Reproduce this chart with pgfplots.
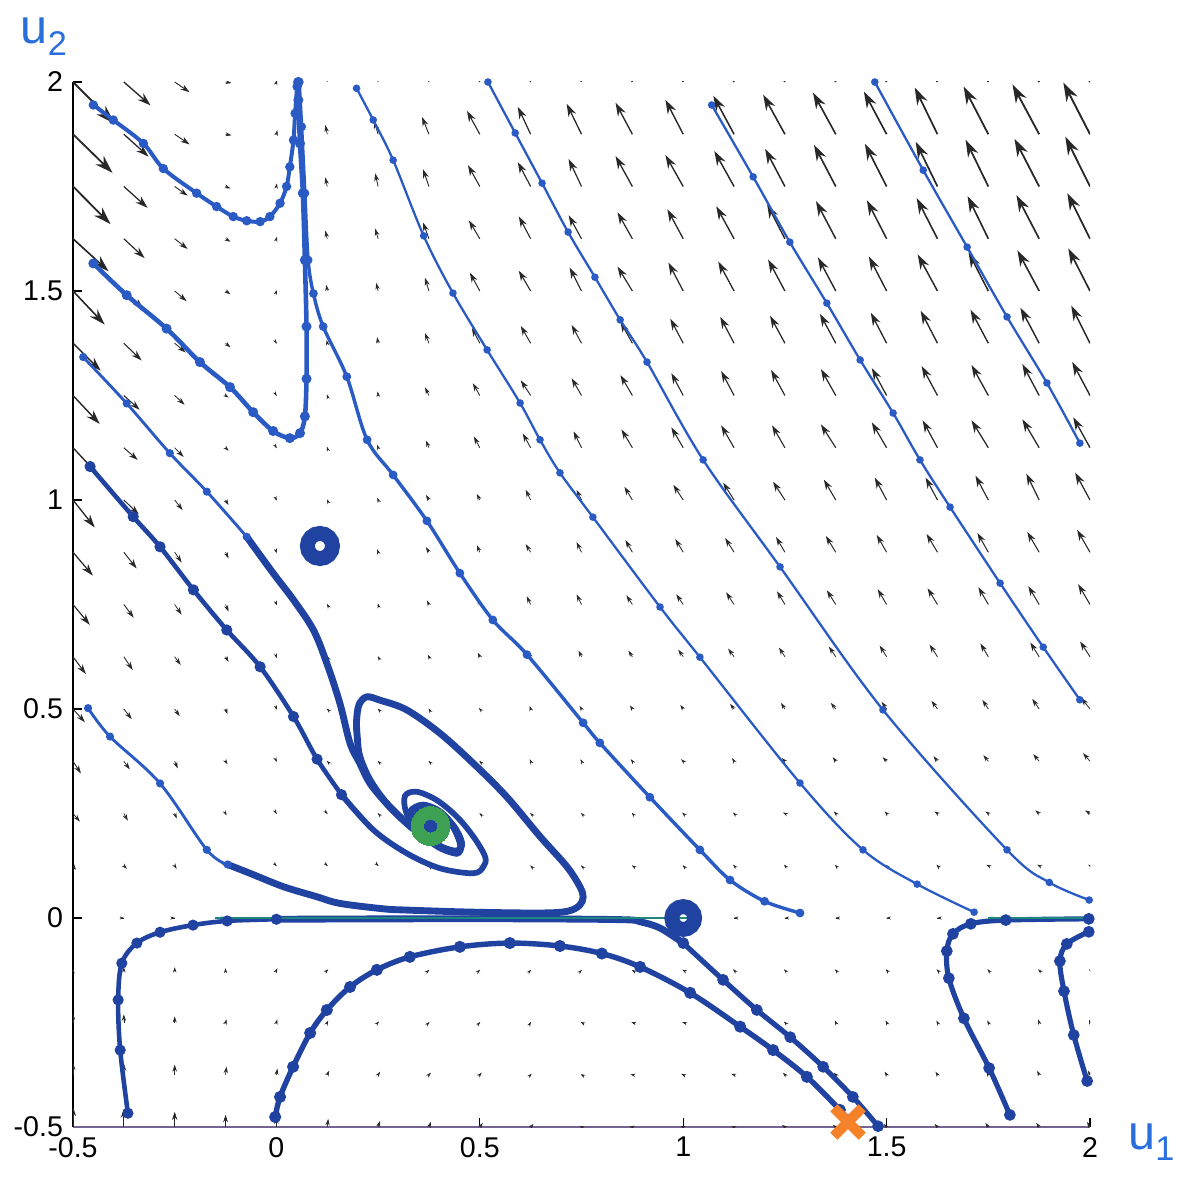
\documentclass[border=0pt]{standalone}
\usepackage{pgfplots}
\pgfplotsset{compat=1.18}
\usepackage{pgfplotstable}
\usetikzlibrary{arrows.meta}
\usepackage{fontspec}
\setmainfont{Liberation Sans}
\definecolor{blueT}{RGB}{32,66,160}
\definecolor{blueL}{RGB}{42,90,195}
\definecolor{tealC}{RGB}{30,135,125}
\definecolor{greenC}{RGB}{62,160,82}
\definecolor{orangeC}{RGB}{245,130,40}
\definecolor{arrowC}{RGB}{40,40,40}
\definecolor{ublue}{RGB}{40,110,220}
\definecolor{baseC}{RGB}{115,100,145}

\pgfplotsset{
 trajthin/.style={color=blueL, line width=0.8pt, mark=*, mark size=0.9pt, smooth, tension=0.55},
 trajmed/.style={color=blueT, line width=1.6pt, mark=*, mark size=1.1pt, smooth, tension=0.55},
 trajthick/.style={color=blueT, line width=2.4pt, no marks, smooth, tension=0.55},
}

\pgfplotstableread{
x y u v
-0.5 2 42 -41
-0.375 2 27 -23
-0.25 2 15 -10
-0.125 2 6 -1
0 2 0.5 2
0.125 2 -2 8
0.25 2 -4 13
0.375 2 -7 18
0.5 2 -14 24
0.625 2 -14 28
0.75 2 -16 31
0.875 2 -18 33
1 2 -19 36
1.125 2 -22 40
1.25 2 -23 41
1.375 2 -24 43
1.5 2 -24 44
1.625 2 -24 48
1.75 2 -26 49
1.875 2 -28 51
2 2 -28 53
-0.5 1.875 40 -38
-0.375 1.875 25 -22
-0.25 1.875 15 -10
-0.125 1.875 6 -1
0 1.875 1 4
0.125 1.875 -2 9
0.25 1.875 -4 13
0.375 1.875 -7 17
0.5 1.875 -13 23
0.625 1.875 -13 27
0.75 1.875 -15 30
0.875 1.875 -17 31
1 1.875 -18 34
1.125 1.875 -21 38
1.25 1.875 -22 39
1.375 1.875 -23 41
1.5 1.875 -23 42
1.625 1.875 -23 46
1.75 1.875 -25 47
1.875 1.875 -27 49
2 1.875 -27 51
-0.5 1.75 38 -37
-0.375 1.75 24 -21
-0.25 1.75 13 -9
-0.125 1.75 5 -2
0 1.75 0.5 3
0.125 1.75 -2 9
0.25 1.75 -3 13
0.375 1.75 -6 17
0.5 1.75 -12 21
0.625 1.75 -13 24
0.75 1.75 -13 27
0.875 1.75 -17 30
1 1.75 -18 31
1.125 1.75 -20 35
1.25 1.75 -20 37
1.375 1.75 -22 41
1.5 1.75 -22 42
1.625 1.75 -22 44
1.75 1.75 -23 46
1.875 1.75 -25 47
2 1.75 -25 49
-0.5 1.625 36 -32
-0.375 1.625 21 -19
-0.25 1.625 13 -10
-0.125 1.625 5 -3
0 1.625 0.5 2
0.125 1.625 -2 8
0.25 1.625 -3 10
0.375 1.625 -6 16
0.5 1.625 -11 18
0.625 1.625 -12 22
0.75 1.625 -13 23
0.875 1.625 -15 26
1 1.625 -16 29
1.125 1.625 -18 32
1.25 1.625 -18 34
1.375 1.625 -20 37
1.5 1.625 -20 38
1.625 1.625 -21 40
1.75 1.625 -21 42
1.875 1.625 -23 43
2 1.625 -23 45
-0.5 1.5 32 -33
-0.375 1.5 20 -18
-0.25 1.5 12 -10
-0.125 1.5 5 -3
0 1.5 0.3 1
0.125 1.5 -1 6
0.25 1.5 -2 8
0.375 1.5 -4 13
0.5 1.5 -10 18
0.625 1.5 -12 20
0.75 1.5 -12 23
0.875 1.5 -15 24
1 1.5 -15 28
1.125 1.5 -16 29
1.25 1.5 -17 31
1.375 1.5 -18 33
1.5 1.5 -18 34
1.625 1.5 -20 36
1.75 1.5 -20 38
1.875 1.5 -22 40
2 1.5 -22 42
-0.5 1.375 28 -27
-0.375 1.375 18 -17
-0.25 1.375 11 -9
-0.125 1.375 5 -4
0 1.375 0.3 -0.5
0.125 1.375 -0.5 3
0.25 1.375 -1 6
0.375 1.375 -4 10
0.5 1.375 -8 15
0.625 1.375 -10 17
0.75 1.375 -10 18
0.875 1.375 -12 21
1 1.375 -13 24
1.125 1.375 -14 26
1.25 1.375 -15 27
1.375 1.375 -16 29
1.5 1.375 -16 30
1.625 1.375 -17 32
1.75 1.375 -18 33
1.875 1.375 -19 35
2 1.375 -19 37
-0.5 1.25 27 -28
-0.375 1.25 16 -14
-0.25 1.25 10 -9
-0.125 1.25 3 -2
0 1.25 0.3 -0.5
0.125 1.25 -0.3 1
0.25 1.25 -0.5 4
0.375 1.25 -4 8
0.5 1.25 -7 12
0.625 1.25 -10 15
0.75 1.25 -10 17
0.875 1.25 -12 20
1 1.25 -12 22
1.125 1.25 -13 24
1.25 1.25 -14 25
1.375 1.25 -15 26
1.5 1.25 -15 27
1.625 1.25 -16 29
1.75 1.25 -17 30
1.875 1.25 -17 31
2 1.25 -18 33
-0.5 1.125 25 -26
-0.375 1.125 14 -12
-0.25 1.125 9 -9
-0.125 1.125 3 -3
0 1.125 0.3 -0.5
0.125 1.125 -0.3 1
0.25 1.125 -1 3
0.375 1.125 -3 7
0.5 1.125 -6 11
0.625 1.125 -8 14
0.75 1.125 -8 16
0.875 1.125 -11 18
1 1.125 -12 20
1.125 1.125 -13 22
1.25 1.125 -13 22
1.375 1.125 -15 23
1.5 1.125 -15 25
1.625 1.125 -15 27
1.75 1.125 -17 27
1.875 1.125 -17 28
2 1.125 -17 30
-0.5 1 22 -27
-0.375 1 15 -14
-0.25 1 8 -10
-0.125 1 3 -5
0 1 0.3 -0.7
0.125 1 -0.3 0.6
0.25 1 -1 2
0.375 1 -3 5
0.5 1 -3 6
0.625 1 -5 10
0.75 1 -5 10
0.875 1 -8 13
1 1 -10 15
1.125 1 -11 17
1.25 1 -12 18
1.375 1 -12 20
1.5 1 -12 22
1.625 1 -12 22
1.75 1 -13 24
1.875 1 -13 26
2 1 -15 27
-0.5 0.875 20 -23
-0.375 0.875 13 -16
-0.25 0.875 7 -10
-0.125 0.875 3 -6
0 0.875 0.3 -1
0.125 0.875 -0.3 0.5
0.25 0.875 -1 3
0.375 0.875 -3 5
0.5 0.875 -3 7
0.625 0.875 -5 8
0.75 0.875 -5 10
0.875 0.875 -7 12
1 0.875 -8 13
1.125 0.875 -9 14
1.25 0.875 -9 15
1.375 0.875 -10 16
1.5 0.875 -10 17
1.625 0.875 -11 18
1.75 0.875 -11 19
1.875 0.875 -12 20
2 0.875 -13 22
-0.5 0.75 17 -20
-0.375 0.75 10 -13
-0.25 0.75 7 -10
-0.125 0.75 3 -7
0 0.75 0.3 -1
0.125 0.75 -0.3 0.5
0.25 0.75 -0.3 1
0.375 0.75 -2 4
0.5 0.75 -2 6
0.625 0.75 -4 8
0.75 0.75 -5 10
0.875 0.75 -6 9
1 0.75 -7 10
1.125 0.75 -8 12
1.25 0.75 -8 13
1.375 0.75 -9 14
1.5 0.75 -9 15
1.625 0.75 -10 16
1.75 0.75 -10 17
1.875 0.75 -11 18
2 0.75 -12 20
-0.5 0.625 13 -17
-0.375 0.625 9 -13
-0.25 0.625 6 -8
-0.125 0.625 3 -5
0 0.625 0.5 -1.5
0.125 0.625 -0.3 0.5
0.25 0.625 -0.3 0.5
0.375 0.625 -1 2
0.5 0.625 -2 4
0.625 0.625 -2.5 4.5
0.75 0.625 -3 6
0.875 0.625 -4 6
1 0.625 -5 7
1.125 0.625 -6 8
1.25 0.625 -6 9
1.375 0.625 -7 10
1.5 0.625 -7 11
1.625 0.625 -8 12
1.75 0.625 -8 13
1.875 0.625 -9 14
2 0.625 -10 15
-0.5 0.5 12 -13
-0.375 0.5 8 -10
-0.25 0.5 5 -7
-0.125 0.5 2 -5
0 0.5 0.3 -1
0.125 0.5 -0.3 0.3
0.25 0.5 -0.3 0.3
0.375 0.5 -0.3 0.5
0.5 0.5 -1 1
0.625 0.5 -1 3
0.75 0.5 -2 3
0.875 0.5 -2.5 3.5
1 0.5 -3 4
1.125 0.5 -4 5
1.25 0.5 -4 6
1.375 0.5 -5 6
1.5 0.5 -5 7
1.625 0.5 -6 8
1.75 0.5 -6 9
1.875 0.5 -7 10
2 0.5 -9 11
-0.5 0.375 8 -12
-0.375 0.375 6 -8
-0.25 0.375 3 -7
-0.125 0.375 2 -3
0 0.375 0.3 -0.7
0.125 0.375 -0.3 0.3
0.25 0.375 -0.3 0.3
0.375 0.375 -0.3 0.3
0.5 0.375 -0.5 0.5
0.625 0.375 -1 2
0.75 0.375 -1 2
0.875 0.375 -1.5 2
1 0.375 -2 2
1.125 0.375 -2 3
1.25 0.375 -3 3
1.375 0.375 -3 4
1.5 0.375 -4 4
1.625 0.375 -4 5
1.75 0.375 -5 6
1.875 0.375 -6 7
2 0.375 -7 8
-0.5 0.25 7 -8
-0.375 0.25 4 -7
-0.25 0.25 2 -5
-0.125 0.25 1 -2
0 0.25 0.3 -0.5
0.125 0.25 0.3 -0.3
0.25 0.25 -0.3 0.3
0.375 0.25 -0.3 0.3
0.5 0.25 -0.3 0.3
0.625 0.25 -0.5 0.5
0.75 0.25 -0.5 0.5
0.875 0.25 -0.7 0.7
1 0.25 -1 1
1.125 0.25 -1 1
1.25 0.25 -2 1
1.375 0.25 -2 2
1.5 0.25 -2 2
1.625 0.25 -3 2
1.75 0.25 -3 2
1.875 0.25 -4 3
2 0.25 -5 3
-0.5 0.125 3 -4
-0.375 0.125 3 -3
-0.25 0.125 2 -3
-0.125 0.125 1 -1
0 0.125 0.3 -0.3
0.125 0.125 0.3 -0.3
0.25 0.125 0.3 -0.3
0.375 0.125 -0.3 0.3
0.5 0.125 -0.3 0.3
0.625 0.125 -0.3 0.3
0.75 0.125 -0.3 0.3
0.875 0.125 -0.5 0.3
1 0.125 -0.5 0.5
1.125 0.125 -1 1
1.25 0.125 -1 1
1.375 0.125 -1 1
1.5 0.125 -1 1
1.625 0.125 -1 1
1.75 0.125 -2 1
1.875 0.125 -2 1
2 0.125 -2 1
-0.5 0 0.4 0
-0.375 0 0.4 0
-0.25 0 0.4 0
-0.125 0 0.4 0
0 0 0.4 0
0.125 0 0.4 0
0.25 0 0.4 0
0.375 0 0.4 0
0.5 0 0.4 0
0.625 0 0.4 0
0.75 0 0.4 0
0.875 0 0.4 0
1 0 0.4 0
1.125 0 -0.4 0
1.25 0 -0.4 0
1.375 0 -0.4 0
1.5 0 -0.4 0
1.625 0 -0.4 0
1.75 0 -0.4 0
1.875 0 -0.4 0
2 0 -0.4 0
-0.5 -0.125 0 2
-0.375 -0.125 0 3
-0.25 -0.125 0 3
-0.125 -0.125 0 2
0 -0.125 1 2
0.125 -0.125 1 1
0.25 -0.125 0.5 0.5
0.375 -0.125 0.4 0.3
0.5 -0.125 0.4 0.3
0.625 -0.125 0.3 0.3
0.75 -0.125 0.3 0.3
0.875 -0.125 -0.5 0.3
1 -0.125 -1 0.5
1.125 -0.125 -1 1
1.25 -0.125 -1 1
1.375 -0.125 -1 1
1.5 -0.125 -1 1
1.625 -0.125 -1 1
1.75 -0.125 -1 1
1.875 -0.125 -1 1
2 -0.125 -1 1
-0.5 -0.25 0 9
-0.375 -0.25 0 8
-0.25 -0.25 0 6
-0.125 -0.25 1 3
0 -0.25 1 3
0.125 -0.25 1 2
0.25 -0.25 1 1
0.375 -0.25 0.5 0.5
0.5 -0.25 0.4 0.4
0.625 -0.25 0.3 0.5
0.75 -0.25 -1 0.5
0.875 -0.25 -1 0.3
1 -0.25 -1 0.3
1.125 -0.25 -2 1
1.25 -0.25 -1 1
1.375 -0.25 -1 2
1.5 -0.25 -1 2
1.625 -0.25 -1 2
1.75 -0.25 -1 2
1.875 -0.25 -1 3
2 -0.25 -1 3
-0.5 -0.375 0 12
-0.375 -0.375 0 11
-0.25 -0.375 0 10
-0.125 -0.375 1 8
0 -0.375 1 6
0.125 -0.375 2 4
0.25 -0.375 2 3
0.375 -0.375 2 2
0.5 -0.375 2 2
0.625 -0.375 1 1
0.75 -0.375 -1 0.5
0.875 -0.375 -2 0.3
1 -0.375 -2 1
1.125 -0.375 -3 1
1.25 -0.375 -2 2
1.375 -0.375 -2 2
1.5 -0.375 -2 3
1.625 -0.375 -2 3
1.75 -0.375 -2 3
1.875 -0.375 -2 4
2 -0.375 -2 4
-0.5 -0.5 0 20
-0.375 -0.5 0 18
-0.25 -0.5 0 15
-0.125 -0.5 0 12
0 -0.5 0 10
0.125 -0.5 1 8
0.25 -0.5 2 6
0.375 -0.5 2 5
0.5 -0.5 3 4
0.625 -0.5 3 3
0.75 -0.5 -2 1
0.875 -0.5 -3 0.5
1 -0.5 -3 1
1.125 -0.5 -3 1
1.25 -0.5 -3 2
1.375 -0.5 -3 2
1.5 -0.5 -3 3
1.625 -0.5 -3 3
1.75 -0.5 -3 4
1.875 -0.5 -3 4
2 -0.5 -3 5
}\quiverdata

\begin{document}
\begin{tikzpicture}
\useasboundingbox (0,0) rectangle (413.7pt,412.3pt);
\begin{axis}[
  at={(25.55pt,17.85pt)}, anchor=south west,
  scale only axis, width=355.95pt, height=365.75pt,
  xmin=-0.5, xmax=2, ymin=-0.5, ymax=2,
  axis x line=bottom, axis y line=left,
  x axis line style={-, draw=baseC, line width=0.7pt},
  y axis line style={-, draw=black, line width=0.5pt},
  xtick={-0.5,0,0.5,1,1.5,2}, ytick={-0.5,0,0.5,1,1.5,2},
  tick align=inside, major tick length=3pt,
  tick style={black, line width=0.4pt},
  ticklabel style={font=\fontsize{10}{12}\selectfont},
  /pgf/number format/assume math mode=true,
  /pgf/number format/fixed,
  point meta min=0, point meta max=60,
]
% vector field
\addplot[draw=arrowC, fill=arrowC, -{Stealth[length=0pt 10, width=0pt 6.5]},
  point meta={sqrt((\thisrow{u})^2+(\thisrow{v})^2)},
  quiver={u=\thisrow{u}, v=\thisrow{v}, scale arrows=0.00243,
    every arrow/.append style={line width=0.16pt+0.52pt*\pgfplotspointmetatransformed/1000}}]
  table[x=x, y=y] {\quiverdata};

% top trajectories
\addplot[trajthin, line width=1.4pt] coordinates {(-0.450,1.945) (-0.401,1.909) (-0.327,1.853) (-0.278,1.793) (-0.196,1.734) (-0.147,1.702) (-0.106,1.678) (-0.073,1.668) (-0.040,1.666) (-0.016,1.678) (0.009,1.710) (0.025,1.750) (0.033,1.797) (0.042,1.861) (0.046,1.925) (0.051,1.989) (0.053,2.0)};
\addplot[trajthin, line width=1.6pt] coordinates {(-0.450,1.566) (-0.368,1.49) (-0.27,1.41) (-0.188,1.33) (-0.114,1.27) (-0.057,1.21) (-0.008,1.165) (0.033,1.148) (0.058,1.16) (0.07,1.2) (0.074,1.29) (0.074,1.415) (0.07,1.574) (0.065,1.734) (0.058,1.853) (0.054,1.957) (0.054,2.0)};
\addplot[trajthin, line width=1.2pt] coordinates {(0.056,2.0) (0.062,1.893) (0.070,1.734) (0.078,1.574) (0.091,1.494) (0.115,1.415) (0.173,1.295) (0.223,1.144) (0.287,1.06) (0.370,0.95) (0.451,0.825) (0.532,0.713) (0.616,0.63) (0.754,0.467) (0.795,0.419) (0.918,0.289) (1.041,0.163) (1.115,0.091) (1.2,0.04) (1.287,0.012)};
\addplot[trajthin] coordinates {(0.197,1.985) (0.238,1.909) (0.287,1.813) (0.362,1.632) (0.434,1.495) (0.518,1.359) (0.599,1.232) (0.648,1.144) (0.697,1.065) (0.778,0.959) (0.943,0.744) (1.041,0.624) (1.287,0.323) (1.442,0.163) (1.575,0.081) (1.715,0.014)};
\addplot[trajthin] coordinates {(0.520,2.0) (0.587,1.878) (0.653,1.758) (0.717,1.641) (0.783,1.533) (0.845,1.431) (0.911,1.330) (1.049,1.096) (1.238,0.84) (1.491,0.498) (1.796,0.163) (1.9,0.085) (1.998,0.043)};
\addplot[trajthin] coordinates {(1.070,1.945) (1.172,1.773) (1.262,1.617) (1.353,1.471) (1.435,1.335) (1.516,1.208) (1.582,1.096) (1.656,0.983) (1.779,0.801) (1.885,0.648) (1.975,0.522)};
\addplot[trajthin] coordinates {(1.471,2.0) (1.590,1.789) (1.698,1.605) (1.796,1.438) (1.894,1.28) (1.975,1.136)};

% left trajectories toward the spiral
\addplot[trajthin, line width=1pt] coordinates {(-0.475,1.342) (-0.368,1.231) (-0.262,1.112) (-0.171,1.02) (-0.073,0.912)};
\addplot[trajthick] coordinates {(-0.073,0.912) (-0.008,0.825) (0.042,0.761) (0.091,0.689) (0.124,0.609) (0.156,0.514) (0.181,0.418) (0.205,0.370) (0.230,0.322) (0.271,0.274) (0.320,0.227) (0.361,0.195) (0.402,0.171) (0.443,0.160) (0.455,0.18) (0.435,0.22) (0.40,0.25) (0.36,0.262) (0.345,0.24) (0.365,0.215) (0.379,0.22)};
\addplot[trajmed] coordinates {(-0.458,1.080) (-0.352,0.960) (-0.286,0.888) (-0.204,0.785) (-0.122,0.689) (-0.040,0.601) (0.042,0.482) (0.10,0.38) (0.16,0.295)};
\addplot[trajthick, line width=2pt] coordinates {(0.16,0.295) (0.238,0.211) (0.320,0.155) (0.402,0.119) (0.484,0.107) (0.509,0.123) (0.513,0.147) (0.484,0.195) (0.443,0.243) (0.394,0.282) (0.345,0.302) (0.316,0.292) (0.320,0.250) (0.353,0.203) (0.402,0.167) (0.443,0.155) (0.453,0.175) (0.435,0.218) (0.402,0.254) (0.361,0.268) (0.345,0.245) (0.36,0.215) (0.379,0.22)};
\addplot[trajthin, line width=1pt] coordinates {(-0.463,0.502) (-0.409,0.434) (-0.286,0.322) (-0.171,0.163) (-0.12,0.128)};
\addplot[trajthick] coordinates {(-0.12,0.128) (-0.065,0.107) (0.017,0.075) (0.099,0.051) (0.156,0.035) (0.263,0.022) (0.320,0.019) (0.483,0.014) (0.648,0.012) (0.715,0.016) (0.745,0.03) (0.754,0.05) (0.746,0.075) (0.714,0.123) (0.648,0.195) (0.566,0.290) (0.484,0.370) (0.402,0.442) (0.320,0.498) (0.255,0.521) (0.222,0.529) (0.203,0.510) (0.197,0.470) (0.199,0.430) (0.205,0.386) (0.230,0.330) (0.271,0.274) (0.320,0.227) (0.361,0.195) (0.402,0.171) (0.443,0.155) (0.453,0.175) (0.435,0.218) (0.402,0.254) (0.361,0.270) (0.33,0.255) (0.34,0.225) (0.379,0.22)};

% bottom trajectories
\addplot[trajmed] coordinates {(-0.365,-0.467) (-0.384,-0.316) (-0.389,-0.196) (-0.380,-0.108) (-0.343,-0.060) (-0.286,-0.034) (-0.205,-0.017) (-0.121,-0.007) (0,-0.003)};
\addplot[trajthick] coordinates {(0,-0.003) (0.3,-0.002) (0.6,-0.002) (0.85,-0.004) (0.894,-0.009) (0.943,-0.024) (1.0,-0.06)};
\addplot[trajmed, line width=1.8pt] coordinates {(1.0,-0.06) (1.098,-0.148) (1.181,-0.22) (1.263,-0.285) (1.344,-0.356) (1.417,-0.428) (1.479,-0.498)};
\addplot[trajmed, line width=1.9pt] coordinates {(-0.003,-0.476) (0.009,-0.428) (0.041,-0.356) (0.083,-0.275) (0.124,-0.220) (0.181,-0.165) (0.247,-0.124) (0.328,-0.093) (0.451,-0.069) (0.574,-0.060) (0.697,-0.067) (0.80,-0.085) (0.894,-0.117) (1.017,-0.179) (1.140,-0.260) (1.221,-0.316) (1.304,-0.380) (1.385,-0.459) (1.405,-0.483)};
\addplot[trajmed, line width=1.8pt] coordinates {(1.803,-0.471) (1.752,-0.359) (1.69,-0.24) (1.653,-0.144) (1.648,-0.079) (1.663,-0.038) (1.707,-0.014) (1.793,-0.005) (1.997,-0.002)};
\addplot[trajmed, line width=1.8pt] coordinates {(1.993,-0.39) (1.96,-0.28) (1.936,-0.175) (1.926,-0.103) (1.943,-0.062) (1.997,-0.033)};

% u2 = 0 line
\addplot[tealC, line width=0.9pt] coordinates {(-0.15,0) (1.02,0)};
\addplot[tealC, line width=0.9pt] coordinates {(1.75,0) (2,0)};

% equilibria
\addplot[only marks, mark=o, mark size=4.4pt, mark options={line width=5.2pt, draw=blueT}] coordinates {(0.107,0.89)};
\addplot[only marks, mark=o, mark size=4.0pt, mark options={line width=5.2pt, draw=blueT}] coordinates {(1.0,0.0)};
\addplot[only marks, mark=*, mark size=6.8pt, mark options={draw=greenC, fill=greenC, line width=0pt}] coordinates {(0.379,0.22)};
\addplot[only marks, mark=*, mark size=2.1pt, mark options={draw=blueT, fill=blueT, line width=0pt}] coordinates {(0.379,0.22)};
\end{axis}

\begin{axis}[
  at={(25.55pt,17.85pt)}, anchor=south west,
  scale only axis, width=355.95pt, height=365.75pt,
  xmin=-0.5, xmax=2, ymin=-0.5, ymax=2,
  hide axis, clip=false,
]
\addplot[only marks, mark=x, mark size=7pt, mark options={line width=3.5pt, draw=orangeC}] coordinates {(1.405,-0.488)};
\end{axis}

\node[text=ublue, font=\fontsize{17}{17}\selectfont, inner sep=0pt] at (15.4pt,399.4pt) {u\raisebox{-0.45ex}{\fontsize{12}{12}\selectfont 2}};
\node[text=ublue, font=\fontsize{17}{17}\selectfont, inner sep=0pt] at (403.0pt,12.6pt) {u\raisebox{-0.45ex}{\fontsize{12}{12}\selectfont 1}};
\end{tikzpicture}
\end{document}
